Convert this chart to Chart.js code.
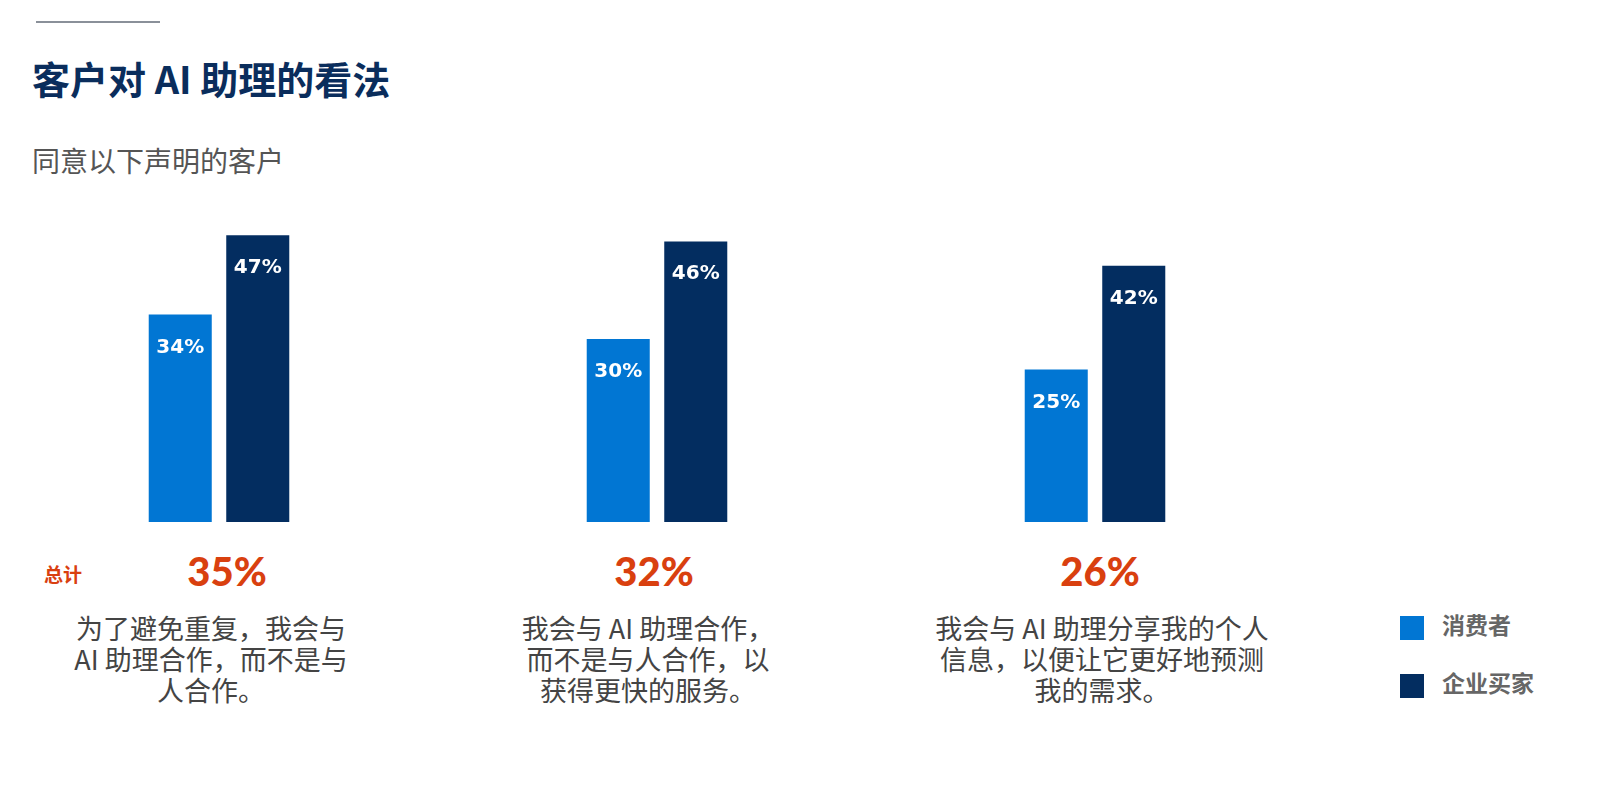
<!DOCTYPE html>
<html><head><meta charset="utf-8">
<script src="https://cdn.jsdelivr.net/npm/chart.js@4"></script>
<style>
body{margin:0;width:1620px;height:791px;background:#fff;font-family:"Noto Sans CJK SC","Noto Sans",sans-serif;position:relative;overflow:hidden}
.a{position:absolute}
#line{left:36px;top:21px;width:124px;height:2px;background:#8a9099}
#title{left:32px;top:50px;font-size:38px;font-weight:bold;color:#0a2d5c}
#sub{left:32px;top:140px;font-size:28px;color:#555}
.tot{font-size:40px;font-weight:900;color:#d9400f;width:300px;text-align:center;top:547px;font-family:"Lato","Noto Sans",sans-serif}
.desc{font-size:27px;color:#444;width:380px;text-align:center;line-height:31px;top:612px}
#zj{left:44px;top:560px;font-size:19px;font-weight:bold;color:#d9400f}
.leg{left:1400px;font-size:23px;font-weight:bold;color:#666}
.sw{display:inline-block;width:24px;height:24px;vertical-align:middle;margin-right:18px}
#wrap{left:0;top:217px;width:1314px;height:305px}
</style></head><body>
<div id="line" class="a"></div>
<div id="title" class="a">客户对 AI 助理的看法</div>
<div id="sub" class="a">同意以下声明的客户</div>
<div id="zj" class="a">总计</div>
<div id="totals"></div>
<div class="a leg" style="top:607px"><span class="sw" style="background:#0176d3"></span>消费者</div>
<div class="a leg" style="top:665px"><span class="sw" style="background:#032d60"></span>企业买家</div>
<div id="wrap" class="a"><canvas id="c"></canvas></div>
<script>
const categories=["为了避免重复，我会与<br>AI 助理合作，而不是与<br>人合作。","我会与 AI 助理合作，<br>而不是与人合作，以<br>获得更快的服务。","我会与 AI 助理分享我的个人<br>信息，以便让它更好地预测<br>我的需求。"];
const consumers=[34,30,25];
const business=[47,46,42];
const totals=[35,32,26];
const totCenters=[227,654,1100];
const descCenters=[211,648,1102];
let h='';
categories.forEach((c,i)=>{
 h+=`<div class="a tot" style="left:${totCenters[i]-150}px">${totals[i]}%</div>`;
 h+=`<div class="a desc" style="left:${descCenters[i]-190}px">${c}</div>`;
});
document.getElementById('totals').innerHTML=h;
const lbl={id:'lbl',afterDatasetsDraw(ch){const x=ch.ctx;x.save();x.fillStyle='#fff';x.font='bold 20px "DejaVu Sans",sans-serif';x.textAlign='center';
ch.data.datasets.forEach((d,di)=>ch.getDatasetMeta(di).data.forEach((b,i)=>x.fillText(d.data[i]+'%',b.x,b.y+38)));x.restore();}};
new Chart(document.getElementById('c'),{type:'bar',
data:{labels:['a','b','c'],datasets:[
{data:consumers,backgroundColor:'#0176d3',categoryPercentage:0.354,barPercentage:0.813},
{data:business,backgroundColor:'#032d60',categoryPercentage:0.354,barPercentage:0.813}]},
options:{responsive:true,maintainAspectRatio:false,animation:false,layout:{padding:0},
plugins:{legend:{display:false},tooltip:{enabled:false}},
scales:{x:{display:false},y:{display:false,min:0,max:50}}},plugins:[lbl]});
</script></body></html>
